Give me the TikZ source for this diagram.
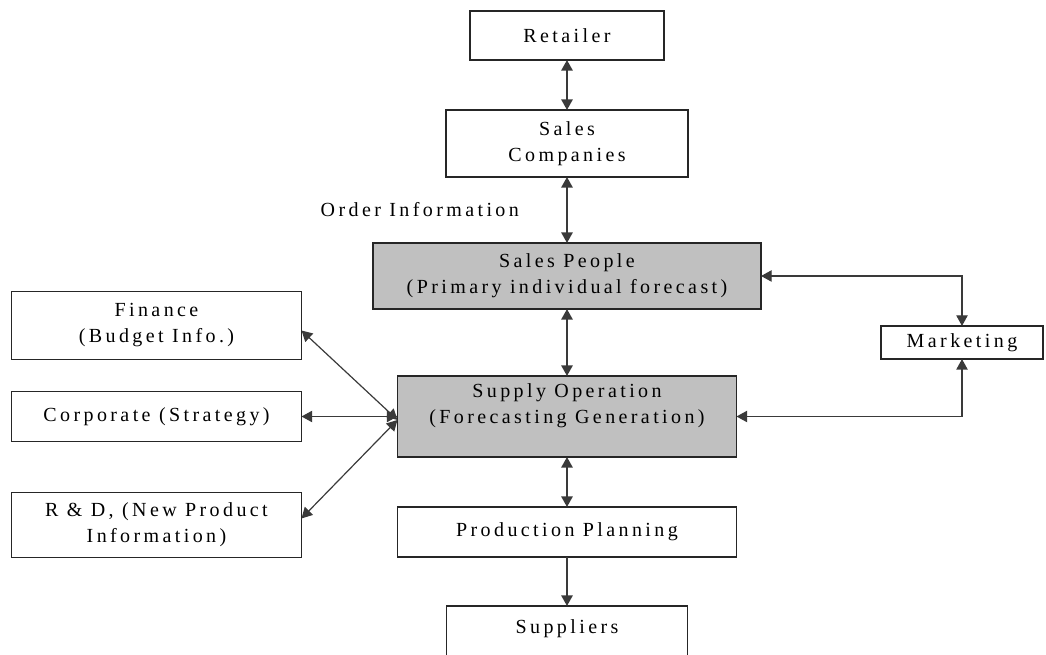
\documentclass[tikz,border=0pt]{standalone}
\usepackage{fontspec}
\setmainfont{Liberation Serif}[LetterSpace=17]
\usepackage{tikz}
\usetikzlibrary{arrows.meta, positioning}
\definecolor{boxgray}{HTML}{C0C0C0}
\definecolor{linegray}{HTML}{3A3A3A}
\tikzset{
  whitebox/.style={
    rectangle, draw=black!85, line width=1pt,
    fill=white, align=center, inner sep=2pt, outer sep=0pt,
    font=\fontsize{15}{19.5}\selectfont,
  },
  greybox/.style={whitebox, fill=boxgray},
  biarrow/.style={{Triangle[length=8pt,width=8.5pt]}-{Triangle[length=8pt,width=8.5pt]}, line width=1.5pt, color=linegray},
  arrow/.style={-{Triangle[length=8pt,width=8.5pt]}, line width=1.5pt, color=linegray},
  slant/.style={biarrow, line width=0.9pt},
  note/.style={text=black, font=\fontsize{15}{19.5}\selectfont},
}

\begin{document}
\begin{tikzpicture}

  \useasboundingbox (-425.25pt,26.625pt) rectangle (359.25pt,-464.625pt);

  % main chain
  \node[whitebox, minimum width=145.5pt, minimum height=36.75pt] (retailer) {Retailer};
  \node[whitebox, below=37.5pt of retailer, minimum width=181.5pt, minimum height=50.25pt] (salesco) {Sales\\Companies};
  \node[greybox, below=49.5pt of salesco, minimum width=291pt, minimum height=49.5pt] (salespeople) {Sales People\\(Primary individual forecast)};
  \node[greybox, below=50.25pt of salespeople, minimum width=254.25pt, minimum height=60.75pt] (supply) {Supply Operation\\(Forecasting Generation)\\\mbox{}};
  \node[whitebox, below=37.5pt of supply, minimum width=254.25pt, minimum height=37.5pt] (planning) {Production Planning};
  \node[whitebox, below=36.75pt of planning, minimum width=180.75pt, minimum height=50.25pt] (suppliers) {Suppliers\\\mbox{}};

  % side boxes
  \node[whitebox, left=72pt of supply, minimum width=217.5pt, minimum height=37.5pt] (corporate) {Corporate (Strategy)};
  \node[whitebox, above=24pt of corporate, minimum width=217.5pt, minimum height=51pt] (finance) {Finance\\(Budget Info.)};
  \node[whitebox, below=38.25pt of corporate, minimum width=217.5pt, minimum height=48.75pt] (rnd) {R \& D, (New Product\\Information)};
  \node[whitebox, below right=12.75pt and 90pt of salespeople, minimum width=121.5pt, minimum height=24.75pt] (marketing) {Marketing};

  \draw[biarrow] (retailer) -- (salesco);
  \draw[biarrow] (salesco) -- node[note, left=32pt]{Order Information} (salespeople);
  \draw[biarrow] (salespeople) -- (supply);
  \draw[biarrow] (supply) -- (planning);
  \draw[arrow] (planning) -- (suppliers);
  \draw[slant] ([yshift=-2.6pt]supply.west) -- ([yshift=-3.75pt]finance.east);
  \draw[slant] (supply.west) -- (corporate.east);
  \draw[slant] ([yshift=-2.6pt]supply.west) -- ([yshift=4.9pt]rnd.east);
  \draw[biarrow, line width=1pt] (salespeople.east) -| (marketing.north);
  \draw[biarrow, line width=1pt] (supply.east) -| (marketing.south);

\end{tikzpicture}
\end{document}
